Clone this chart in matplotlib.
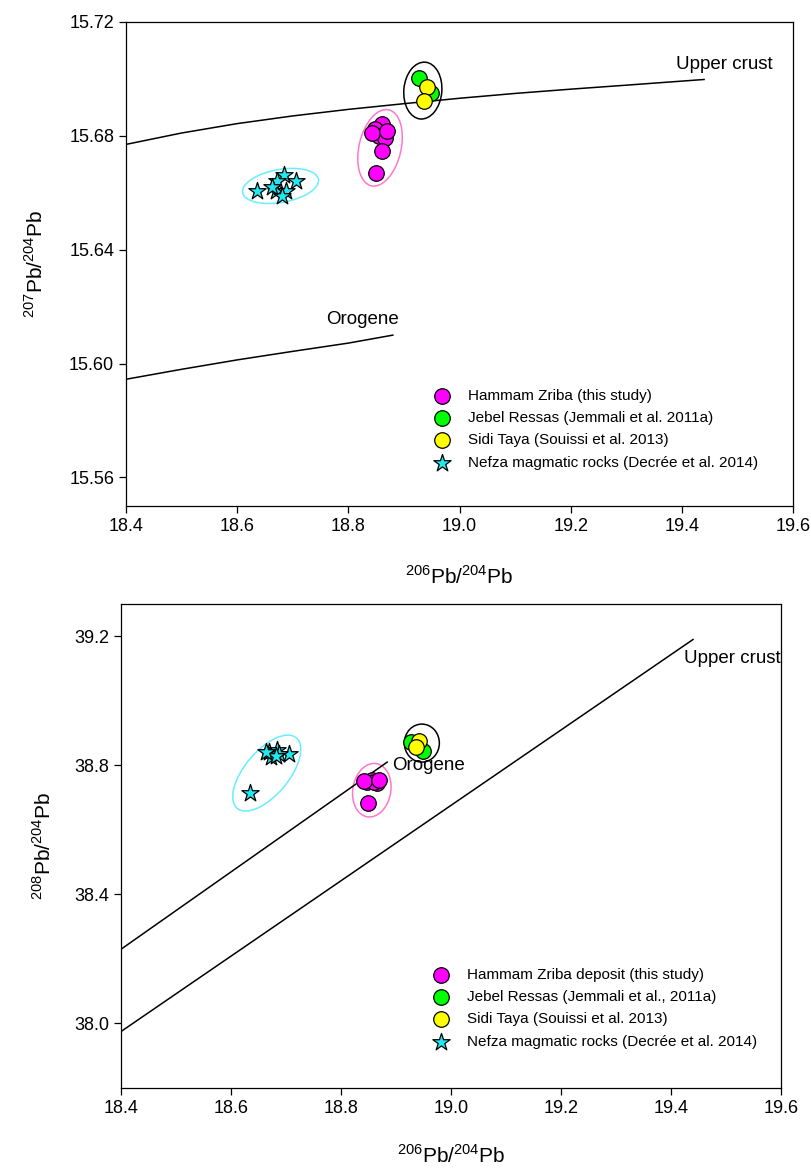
import matplotlib
matplotlib.use('Agg')
import matplotlib.pyplot as plt
from matplotlib.patches import Ellipse
from matplotlib.transforms import ScaledTranslation

plt.rcParams['font.family'] = ['Liberation Sans', 'DejaVu Sans']
plt.rcParams['mathtext.fontset'] = 'custom'
plt.rcParams['mathtext.rm'] = 'Liberation Sans'

# Hammam Zriba (this study)
hz_206 = [18.860, 18.848, 18.856, 18.866, 18.860, 18.850, 18.842, 18.869]
hz_207 = [15.6842, 15.6824, 15.6800, 15.6792, 15.6748, 15.6669, 15.6809, 15.6818]
hz_208 = [38.752, 38.749, 38.754, 38.744, 38.748, 38.683, 38.750, 38.754]

# Jebel Ressas
jr_206 = [18.927, 18.949]
jr_207 = [15.7002, 15.6950]
jr_208 = [38.872, 38.846]

# Sidi Taya
st_206 = [18.941, 18.936]
st_207 = [15.6971, 15.6924]
st_208 = [38.877, 38.857]

# Nefza magmatic rocks
nf_206 = [18.635, 18.669, 18.684, 18.706, 18.672, 18.687, 18.681, 18.663]
nf_207 = [15.6605, 15.6605, 15.6663, 15.6640, 15.6640, 15.6605, 15.6587, 15.6622]
nf_208 = [38.714, 38.841, 38.849, 38.836, 38.826, 38.836, 38.830, 38.840]

# growth curves
uc_top_x = [18.40, 18.50, 18.60, 18.70, 18.80, 18.90, 19.00, 19.10, 19.20, 19.30, 19.44]
uc_top_y = [15.6770, 15.6810, 15.6843, 15.6870, 15.6893, 15.6913, 15.6932, 15.6949,
            15.6964, 15.6978, 15.6998]
or_top_x = [18.40, 18.50, 18.60, 18.70, 18.80, 18.88]
or_top_y = [15.5945, 15.5980, 15.6013, 15.6043, 15.6072, 15.6100]
uc_bot_x = [18.40, 19.44]
uc_bot_y = [37.975, 39.19]
or_bot_x = [18.40, 18.884]
or_bot_y = [38.23, 38.81]

labels_top = ['Hammam Zriba (this study)', 'Jebel Ressas (Jemmali et al. 2011a)',
              'Sidi Taya (Souissi et al. 2013)', 'Nefza magmatic rocks (Decr\u00e9e et al. 2014)']
labels_bot = ['Hammam Zriba deposit (this study)', 'Jebel Ressas (Jemmali et al., 2011a)',
              'Sidi Taya (Souissi et al. 2013)', 'Nefza magmatic rocks (Decr\u00e9e et al. 2014)']

x_ticks = [18.4, 18.6, 18.8, 19.0, 19.2, 19.4, 19.6]
y_ticks_top = [15.56, 15.60, 15.64, 15.68, 15.72]
y_ticks_bot = [38.0, 38.4, 38.8, 39.2]


def ring(ax, cx, cy, w, h, ang, color):
    # ellipse sized in inches, centred on a data point
    tr = ax.figure.dpi_scale_trans + ScaledTranslation(cx, cy, ax.transData)
    ax.add_patch(Ellipse((0, 0), w, h, angle=ang, transform=tr, fill=False,
                         edgecolor=color, lw=1.1, zorder=2))


def style(ax):
    for s in ax.spines.values():
        s.set_linewidth(0.9)
    ax.tick_params(direction='out', length=5, width=0.9, labelsize=13,
                   top=False, right=False)


def points(ax, y_hz, y_jr, y_st, y_nf, labels):
    ax.scatter(hz_206, y_hz, s=125, c='#FF00FF', edgecolors='black', linewidths=0.9,
               zorder=4, label=labels[0])
    ax.scatter(jr_206, y_jr, s=125, c='#00FF00', edgecolors='black', linewidths=0.9,
               zorder=4, label=labels[1])
    ax.scatter(st_206, y_st, s=125, c='#FFFF00', edgecolors='black', linewidths=0.9,
               zorder=5, label=labels[2])
    ax.scatter(nf_206, y_nf, s=170, marker='*', c='#22E8F0', edgecolors='black',
               linewidths=0.9, zorder=4, label=labels[3])


def legend(ax, fig, x, y):
    ax.legend(loc='upper left', bbox_to_anchor=(x / 811, 1 - y / 1169),
              bbox_transform=fig.transFigure, frameon=False, fontsize=11,
              handlelength=1.0, handletextpad=1.22, labelspacing=0.54,
              borderpad=0, borderaxespad=0)


fig = plt.figure(figsize=(8.11, 11.69), dpi=100)

# ---- top panel ----
ax1 = fig.add_axes([0.1554, 0.5672, 0.8224, 0.4140])
ax1.plot(uc_top_x, uc_top_y, color='black', lw=1.1, zorder=3)
ax1.plot(or_top_x, or_top_y, color='black', lw=1.1, zorder=3)
points(ax1, hz_207, jr_207, st_207, nf_207, labels_top)
ax1.set_xlim(18.4, 19.6)
ax1.set_ylim(15.55, 15.72)
ax1.set_xticks(x_ticks)
ax1.set_xticklabels(['%.1f' % v for v in x_ticks])
ax1.set_yticks(y_ticks_top)
ax1.set_yticklabels(['%.2f' % v for v in y_ticks_top])
ring(ax1, 18.857, 15.6758, 0.78, 0.42, 77, '#FF77CC')
ring(ax1, 18.934, 15.6959, 0.57, 0.38, 85, 'black')
ring(ax1, 18.678, 15.6624, 0.77, 0.33, 10, '#66EEFF')
ax1.text(19.477, 15.705, 'Upper crust', fontsize=13.5, ha='center', va='center')
ax1.text(18.826, 15.6154, 'Orogene', fontsize=13.5, ha='center', va='center')
ax1.set_xlabel(r'$^{206}$Pb/$^{204}$Pb', fontsize=15, labelpad=22)
ax1.set_ylabel(r'$^{207}$Pb/$^{204}$Pb', fontsize=15, labelpad=16)
style(ax1)
legend(ax1, fig, 434, 389)

# ---- bottom panel ----
ax2 = fig.add_axes([0.1492, 0.0693, 0.8138, 0.4140])
ax2.plot(uc_bot_x, uc_bot_y, color='black', lw=1.1, zorder=3)
ax2.plot(or_bot_x, or_bot_y, color='black', lw=1.1, zorder=3)
points(ax2, hz_208, jr_208, st_208, nf_208, labels_bot)
ax2.set_xlim(18.4, 19.6)
ax2.set_ylim(37.8, 39.3)
ax2.set_xticks(x_ticks)
ax2.set_xticklabels(['%.1f' % v for v in x_ticks])
ax2.set_yticks(y_ticks_bot)
ax2.set_yticklabels(['%.1f' % v for v in y_ticks_bot])
ring(ax2, 18.856, 38.723, 0.54, 0.38, 80, '#FF77CC')
ring(ax2, 18.947, 38.869, 0.38, 0.35, 90, 'black')
ring(ax2, 18.665, 38.776, 0.92, 0.44, 50, '#66EEFF')
ax2.text(19.511, 39.13, 'Upper crust', fontsize=13.5, ha='center', va='center')
ax2.text(18.959, 38.80, 'Orogene', fontsize=13.5, ha='center', va='center')
ax2.set_xlabel(r'$^{206}$Pb/$^{204}$Pb', fontsize=15, labelpad=20)
ax2.set_ylabel(r'$^{208}$Pb/$^{204}$Pb', fontsize=15, labelpad=14)
style(ax2)
legend(ax2, fig, 433, 968)

fig.savefig('out.png', dpi=100)
